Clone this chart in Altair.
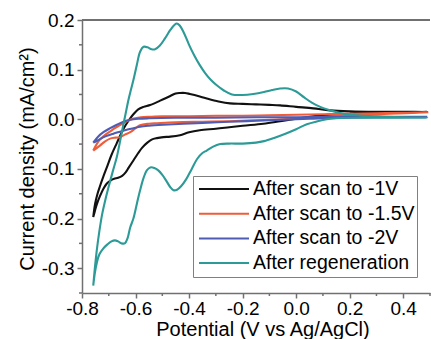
import altair as alt
import pandas as pd

FONT = "Liberation Sans"

SERIES = ["After scan to -1V", "After scan to -1.5V", "After scan to -2V", "After regeneration"]
COLORS = ["#111111", "#ef5c3a", "#4f5cb3", "#2c9a96"]

X_DOMAIN = [-0.8, 0.5]
Y_DOMAIN = [-0.35, 0.2]
X_MAJOR = [-0.8, -0.6, -0.4, -0.2, 0.0, 0.2, 0.4]
X_MINOR = [-0.7, -0.5, -0.3, -0.1, 0.1, 0.3, 0.5]
Y_MAJOR = [-0.3, -0.2, -0.1, 0.0, 0.1, 0.2]
Y_MINOR = [-0.35, -0.25, -0.15, -0.05, 0.05, 0.15]

# (potential V, current density mA/cm2); anodic sweep, then cathodic sweep (listed low->high V)
BLACK_FWD = [(-0.758, -0.197), (-0.751, -0.17), (-0.742, -0.15), (-0.733, -0.135), (-0.72, -0.115),
             (-0.708, -0.098), (-0.69, -0.072), (-0.67, -0.048), (-0.646, -0.02), (-0.625, -0.002),
             (-0.608, 0.01), (-0.59, 0.02), (-0.57, 0.025), (-0.55, 0.028), (-0.534, 0.031),
             (-0.51, 0.037), (-0.49, 0.042), (-0.47, 0.047), (-0.45, 0.052), (-0.434, 0.053),
             (-0.415, 0.053), (-0.397, 0.051), (-0.36, 0.046), (-0.334, 0.042), (-0.29, 0.036),
             (-0.247, 0.032), (-0.2, 0.031), (-0.15, 0.03), (-0.1, 0.029), (-0.06, 0.028),
             (0.0, 0.025), (0.064, 0.022), (0.126, 0.018), (0.2, 0.016), (0.3, 0.015),
             (0.4, 0.015), (0.49, 0.015)]
BLACK_REV = [(-0.758, -0.197), (-0.752, -0.185), (-0.745, -0.172), (-0.733, -0.155), (-0.72, -0.14),
             (-0.708, -0.13), (-0.695, -0.124), (-0.68, -0.12), (-0.665, -0.118), (-0.65, -0.114),
             (-0.637, -0.107), (-0.625, -0.097), (-0.608, -0.083), (-0.59, -0.068), (-0.575, -0.057),
             (-0.558, -0.048), (-0.54, -0.041), (-0.52, -0.038), (-0.496, -0.036), (-0.47, -0.035),
             (-0.434, -0.032), (-0.4, -0.026), (-0.36, -0.022), (-0.3, -0.019), (-0.25, -0.016),
             (-0.2, -0.013), (-0.123, -0.009), (-0.06, -0.004), (0.0, 0.001), (0.05, 0.005),
             (0.1, 0.008), (0.2, 0.011), (0.3, 0.013), (0.4, 0.014), (0.49, 0.015)]

RED_FWD = [(-0.758, -0.063), (-0.745, -0.05), (-0.733, -0.041), (-0.71, -0.03), (-0.683, -0.02),
           (-0.66, -0.012), (-0.633, -0.004), (-0.61, 0.001), (-0.58, 0.004), (-0.54, 0.005),
           (-0.5, 0.006), (-0.4, 0.006), (-0.3, 0.007), (-0.2, 0.007), (-0.1, 0.008), (0.0, 0.009),
           (0.1, 0.01), (0.2, 0.011), (0.3, 0.012), (0.4, 0.013), (0.49, 0.014)]
RED_REV = [(-0.758, -0.063), (-0.745, -0.058), (-0.733, -0.053), (-0.715, -0.045), (-0.695, -0.039),
           (-0.675, -0.037), (-0.658, -0.036), (-0.64, -0.031), (-0.62, -0.026), (-0.6, -0.018),
           (-0.583, -0.012), (-0.55, -0.009), (-0.52, -0.008), (-0.45, -0.006), (-0.35, -0.005),
           (-0.25, -0.004), (-0.15, -0.002), (-0.05, 0.0), (0.05, 0.003), (0.15, 0.006),
           (0.25, 0.009), (0.35, 0.011), (0.49, 0.014)]

BLUE_FWD = [(-0.758, -0.047), (-0.74, -0.035), (-0.72, -0.026), (-0.695, -0.018), (-0.67, -0.011),
            (-0.645, -0.005), (-0.62, -0.001), (-0.59, 0.001), (-0.55, 0.002), (-0.45, 0.003),
            (-0.3, 0.003), (-0.15, 0.004), (0.0, 0.004), (0.15, 0.005), (0.3, 0.005), (0.49, 0.005)]
BLUE_REV = [(-0.758, -0.047), (-0.745, -0.044), (-0.733, -0.04), (-0.71, -0.034), (-0.683, -0.029),
            (-0.658, -0.025), (-0.633, -0.021), (-0.608, -0.018), (-0.583, -0.015), (-0.55, -0.013),
            (-0.496, -0.011), (-0.42, -0.009), (-0.33, -0.007), (-0.25, -0.005), (-0.15, -0.003),
            (-0.05, -0.001), (0.05, 0.001), (0.15, 0.003), (0.3, 0.004), (0.49, 0.005)]

TEAL_FWD = [(-0.758, -0.335), (-0.752, -0.3), (-0.745, -0.265), (-0.735, -0.225), (-0.725, -0.192),
            (-0.714, -0.165), (-0.7, -0.135), (-0.685, -0.105), (-0.67, -0.076), (-0.658, -0.045),
            (-0.646, -0.012), (-0.636, 0.014), (-0.627, 0.038), (-0.618, 0.058), (-0.608, 0.079),
            (-0.595, 0.11), (-0.583, 0.136), (-0.57, 0.146), (-0.555, 0.145), (-0.54, 0.141),
            (-0.527, 0.141), (-0.51, 0.148), (-0.49, 0.163), (-0.47, 0.18), (-0.455, 0.19),
            (-0.446, 0.193), (-0.435, 0.189), (-0.42, 0.175), (-0.4, 0.15), (-0.38, 0.128),
            (-0.36, 0.109), (-0.34, 0.093), (-0.32, 0.08), (-0.3, 0.07), (-0.27, 0.058),
            (-0.24, 0.05), (-0.2, 0.049), (-0.16, 0.051), (-0.12, 0.055), (-0.09, 0.059),
            (-0.06, 0.062), (-0.03, 0.062), (0.0, 0.056), (0.03, 0.044), (0.06, 0.033),
            (0.09, 0.025), (0.12, 0.019), (0.16, 0.013), (0.2, 0.009), (0.3, 0.006),
            (0.4, 0.004), (0.49, 0.003)]
TEAL_REV = [(-0.758, -0.335), (-0.752, -0.31), (-0.745, -0.29), (-0.735, -0.272), (-0.72, -0.26),
            (-0.705, -0.252), (-0.69, -0.246), (-0.677, -0.244), (-0.665, -0.246), (-0.652, -0.25),
            (-0.64, -0.25), (-0.63, -0.24), (-0.62, -0.218), (-0.608, -0.2), (-0.595, -0.17),
            (-0.583, -0.143), (-0.57, -0.118), (-0.558, -0.103), (-0.545, -0.097), (-0.53, -0.098),
            (-0.515, -0.103), (-0.5, -0.112), (-0.485, -0.124), (-0.47, -0.137), (-0.458, -0.143),
            (-0.445, -0.142), (-0.43, -0.135), (-0.41, -0.12), (-0.39, -0.1), (-0.37, -0.08),
            (-0.35, -0.068), (-0.334, -0.063), (-0.31, -0.055), (-0.284, -0.05), (-0.25, -0.049),
            (-0.2, -0.049), (-0.15, -0.047), (-0.12, -0.044), (-0.08, -0.037), (-0.04, -0.029),
            (0.0, -0.02), (0.04, -0.01), (0.08, -0.004), (0.114, 0.0), (0.15, 0.002),
            (0.2, 0.003), (0.3, 0.003), (0.4, 0.003), (0.49, 0.003)]

SWEEPS = [(BLACK_FWD, BLACK_REV), (RED_FWD, RED_REV), (BLUE_FWD, BLUE_REV), (TEAL_FWD, TEAL_REV)]

rows = []
for name, (fwd, rev) in zip(SERIES, SWEEPS):
    # closed voltammogram: forward sweep up, then return sweep back down
    loop = list(fwd) + list(reversed(rev))[1:]
    for k, (v, j) in enumerate(loop):
        rows.append({"series": name, "k": k, "V": v, "J": j})
df = pd.DataFrame(rows)

AXIS_GREY = "#707070"
SIGNED = "(datum.value < 0 ? '-' : '') + format(abs(datum.value), '.1f')"

x_scale = alt.Scale(domain=X_DOMAIN, nice=False, zero=False)
y_scale = alt.Scale(domain=Y_DOMAIN, nice=False, zero=False)

x_axis = alt.Axis(
    values=X_MAJOR, labelExpr=SIGNED, tickSize=5,
    labelFlush=False, labelOverlap=False, labelPadding=1,
    title="Potential (V vs Ag/AgCl)", titleX=180.5, titleY=42.5,
    titleBaseline="alphabetic", titleAlign="center",
)
y_axis = alt.Axis(
    values=Y_MAJOR, labelExpr=SIGNED, tickSize=5,
    labelFlush=False, labelOverlap=False, labelPadding=3,
    title="Current density (mA/cm²)", titleX=-49, titleY=138.5,
    titleBaseline="alphabetic", titleAlign="center", titleAngle=-90,
)

lines = alt.Chart(df).mark_line(strokeWidth=2.1, interpolate="catmull-rom").encode(
    x=alt.X("V:Q", scale=x_scale, axis=x_axis),
    y=alt.Y("J:Q", scale=y_scale, axis=y_axis),
    color=alt.Color(
        "series:N",
        scale=alt.Scale(domain=SERIES, range=COLORS),
        legend=alt.Legend(
            title=None, orient="none", legendX=111, legendY=156,
            symbolType="stroke", symbolSize=2500, symbolStrokeWidth=2,
            labelFont=FONT, labelFontSize=19.5, labelColor="black", labelLimit=400,
            labelOffset=3, symbolOffset=3, clipHeight=22, rowPadding=2.7,
            padding=2, strokeColor="#808080", fillColor="white",
        ),
    ),
    detail="series:N",
    order=alt.Order("k:Q"),
)

# top frame line of the plot box
frame = alt.Chart(df).mark_rule(color=AXIS_GREY, strokeWidth=1.5).encode(
    x=alt.datum(X_DOMAIN[0]), x2=alt.datum(X_DOMAIN[1]), y=alt.datum(Y_DOMAIN[1]),
)

# short minor ticks between the labelled ones
x_minor = alt.Chart(pd.DataFrame({"V": X_MINOR})).mark_rule(color=AXIS_GREY, strokeWidth=1.5).encode(
    x=alt.X("V:Q", scale=x_scale, axis=x_axis),
    y=alt.value(273), y2=alt.value(276),
)
y_minor = alt.Chart(pd.DataFrame({"J": Y_MINOR})).mark_rule(color=AXIS_GREY, strokeWidth=1.5).encode(
    y=alt.Y("J:Q", scale=y_scale, axis=y_axis),
    x=alt.value(-3), x2=alt.value(0),
)

chart = alt.layer(frame, x_minor, y_minor, lines).properties(
    width=348, height=273,
    autosize=alt.AutoSizeParams(type="none"),
    padding={"left": 82, "top": 20, "right": 1, "bottom": 46},
    background="white",
).configure_view(stroke=None).configure_axis(
    grid=False, domainColor=AXIS_GREY, domainWidth=1.5, tickColor=AXIS_GREY, tickWidth=1.5,
    labelFont=FONT, labelFontSize=19, labelColor="black",
    titleFont=FONT, titleFontSize=20, titleFontWeight="normal", titleColor="black",
)

chart.save("out.html", embed_options={"renderer": "svg", "actions": False})
